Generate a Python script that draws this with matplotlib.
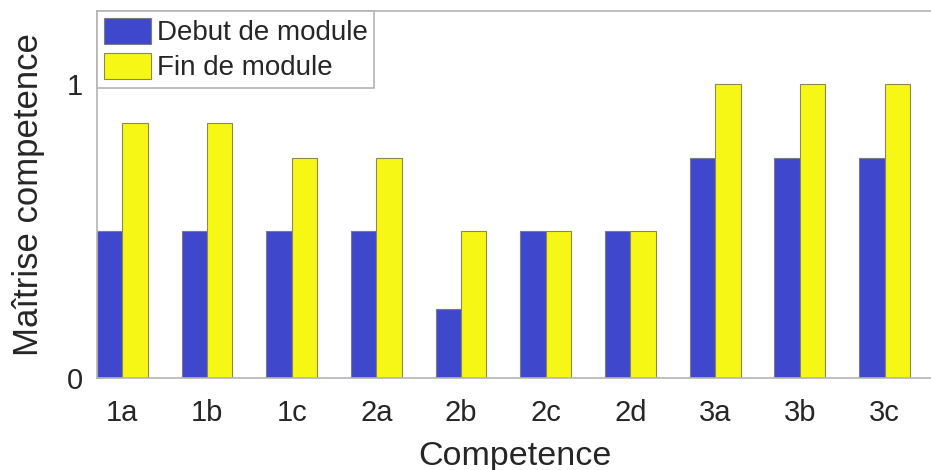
import numpy as np
import matplotlib.pyplot as plt

plt.rcParams['font.family'] = ['Liberation Sans', 'DejaVu Sans']

competences = ['1a', '1b', '1c', '2a', '2b', '2c', '2d', '3a', '3b', '3c']
debut = [0.5, 0.5, 0.5, 0.5, 0.233, 0.5, 0.5, 0.75, 0.75, 0.75]
fin = [0.867, 0.867, 0.75, 0.75, 0.5, 0.5, 0.5, 1.0, 1.0, 1.0]

blue = '#3f48cc'
yellow = '#f7f716'
text_col = '#262626'
axis_col = '#b4b4b4'

fig = plt.figure(figsize=(9.31, 4.70), dpi=100)
ax = fig.add_axes([0.104, 0.196, 0.898, 0.781])

x = np.arange(1, len(competences) + 1)
w = 0.3
ax.bar(x - w / 2, debut, w, color=blue, edgecolor='#7a7a8a', linewidth=0.8,
       label='Debut de module')
ax.bar(x + w / 2, fin, w, color=yellow, edgecolor='#8a8a50', linewidth=0.8,
       label='Fin de module')

ax.set_xlim(0.7, 10.57)
ax.set_ylim(0, 1.25)
ax.set_xticks(x)
ax.set_xticklabels(competences)
ax.set_yticks([0, 1])
ax.tick_params(direction='in', length=4, color=axis_col, labelsize=21,
               labelcolor=text_col)
ax.tick_params(axis='x', length=0, pad=15)
ax.tick_params(axis='y', pad=10)

for side in ['left', 'top', 'bottom']:
    ax.spines[side].set_color(axis_col)
    ax.spines[side].set_linewidth(1.2)
ax.spines['right'].set_visible(False)

ax.set_xlabel('Competence', fontsize=24.5, color=text_col, labelpad=10)
ax.set_ylabel('Maîtrise competence', fontsize=25, color=text_col, labelpad=16)

leg = ax.legend(loc='upper left', bbox_to_anchor=(0, 1), borderaxespad=0,
                fontsize=20, fancybox=False, framealpha=1, edgecolor=axis_col,
                handlelength=1.7, handleheight=1.05, handletextpad=0.2,
                labelspacing=0.25, borderpad=0.25)
for t in leg.get_texts():
    t.set_color(text_col)
leg.get_frame().set_linewidth(1.2)

fig.savefig('out.png', dpi=100)
